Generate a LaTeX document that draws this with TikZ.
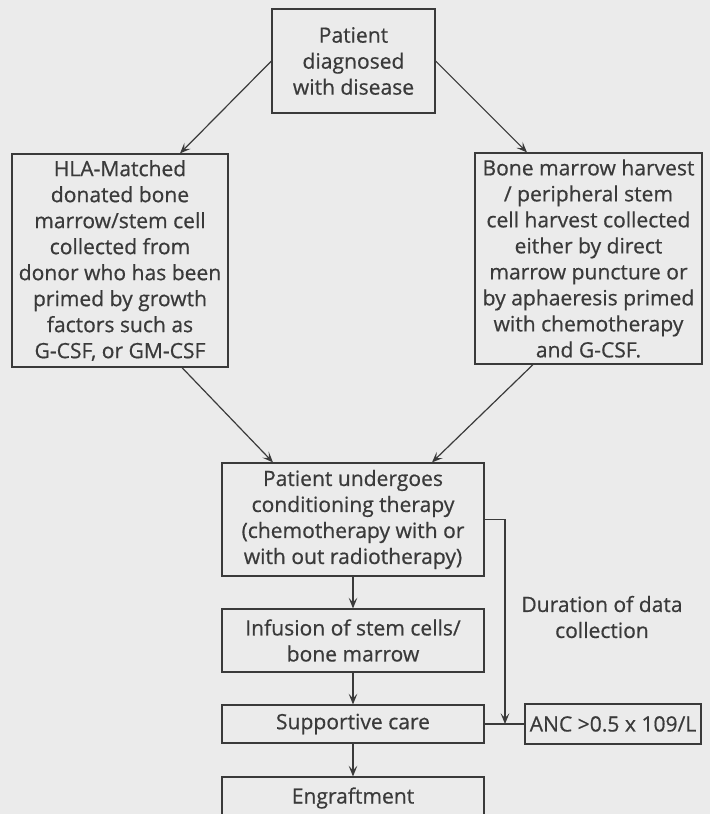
\documentclass[tikz,border=0pt]{standalone}
\usepackage{fontspec}
\setmainfont{Open Sans}[FakeBold=0.6]
\usetikzlibrary{arrows.meta,calc}
\definecolor{bgpaper}{HTML}{EBEBEB}
\definecolor{ink}{HTML}{3A3A3A}

\begin{document}
\begin{tikzpicture}[x=0.75pt,y=-0.75pt,
    box/.style={draw=ink,line width=0.9pt,text=ink,align=center,inner sep=0pt,
        font=\fontsize{15.8}{19.5}\selectfont},
    arr/.style={draw=ink,line width=0.9pt,-{Stealth[length=8pt,width=6.5pt,inset=3.5pt]}}]
\useasboundingbox (0,0) rectangle (710,814);
\fill[bgpaper] (0,0) rectangle (710,814);
% boxes
\node[box,minimum width=163*0.75pt,minimum height=104*0.75pt] (diag) at (353.5,61) {Patient\\diagnosed\\with disease};
\node[box,minimum width=216*0.75pt,minimum height=213*0.75pt] (allo) at (120,260.5) {HLA-Matched\\donated bone\\marrow/stem cell\\collected from\\donor who has been\\primed by growth\\factors such as\\G-CSF, or GM-CSF};
\node[box,minimum width=227*0.75pt,minimum height=211*0.75pt] (auto) at (588.5,258.5) {Bone marrow harvest\\/ peripheral stem\\cell harvest collected\\either by direct\\marrow puncture or\\by aphaeresis primed\\with chemotherapy\\and G-CSF.};
\node[box,minimum width=262*0.75pt,minimum height=113*0.75pt] (cond) at (353,519.5) {Patient undergoes\\conditioning therapy\\(chemotherapy with or\\with out radiotherapy)};
\node[box,minimum width=262*0.75pt,minimum height=63*0.75pt] (infu) at (353,640.5) {Infusion of stem cells/\\bone marrow};
\node[box,minimum width=262*0.75pt,minimum height=38*0.75pt] (supp) at (353,724) {Supportive care};
\node[box,minimum width=262*0.75pt,minimum height=42*0.75pt] (engr) at (353,798) {Engraftment};
\node[box,minimum width=176*0.75pt,minimum height=40*0.75pt] (anc) at (613,724) {ANC >0.5 x 109/L};
\node[text=ink,align=center,font=\fontsize{15.8}{19.5}\selectfont] (dur) at (602,617) {Duration of data\\collection};
% connectors
\draw[arr] (diag.west) -- ($(allo.north)+(60,0)$);
\draw[arr] (diag.east) -- ($(auto.north)+(-61.5,0)$);
\draw[arr] ($(allo.south)+(62,0)$) -- ($(cond.north)+(-80,0)$);
\draw[arr] ($(auto.south)+(-55.5,0)$) -- ($(cond.north)+(79,0)$);
\draw[arr] (cond.south) -- (infu.north);
\draw[arr] (infu.south) -- (supp.north);
\draw[arr] (supp.south) -- (engr.north);
\coordinate (endd) at (505,724);
\draw[arr] (cond.east) -| (endd);
\draw[draw=ink,line width=0.9pt] (supp.east) -- (anc.west);
\end{tikzpicture}
\end{document}
